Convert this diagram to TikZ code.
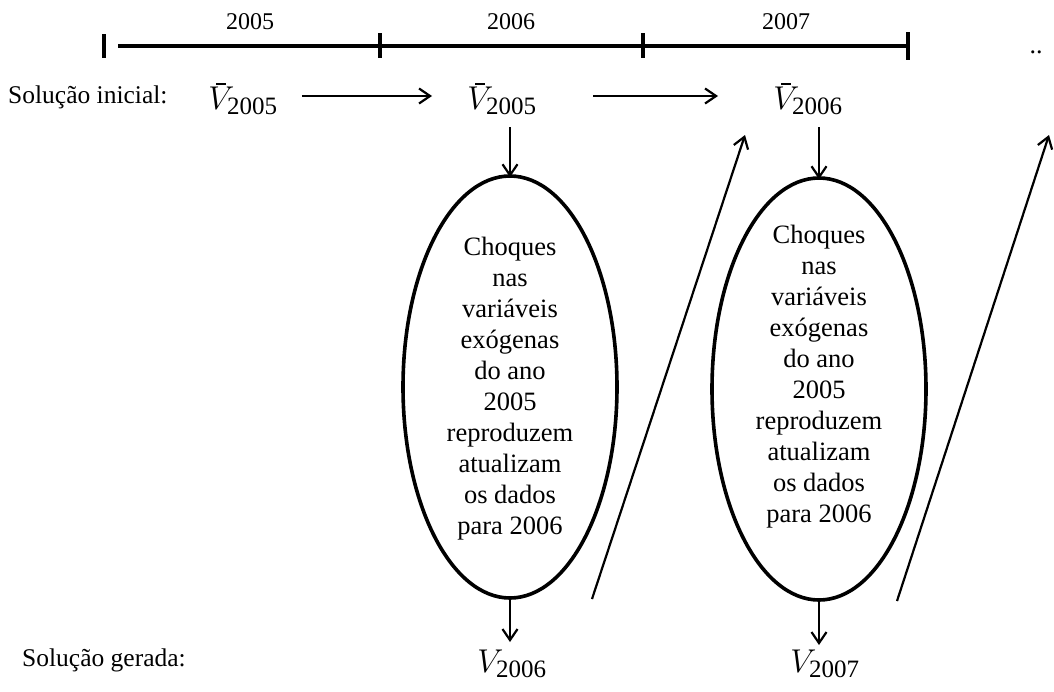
\documentclass[tikz,border=0pt]{standalone}
\usepackage{fix-cm}
\usepackage{fontspec}
\setmainfont{Liberation Serif}
\usetikzlibrary{arrows.meta,shapes.geometric}
\newcommand{\vplain}[1]{$V_{\mbox{\fontsize{25}{25}\selectfont #1}}$}
\newcommand{\vbar}[1]{\makebox[0pt][l]{\hspace{8pt}\rule[25pt]{10pt}{1.6pt}}\vplain{#1}}
\tikzset{
  lbl/.style={font=\fontsize{25.5}{30}\selectfont, inner sep=0pt},
  yr/.style={font=\fontsize{24}{28}\selectfont, inner sep=0pt},
  var/.style={font=\fontsize{33}{40}\selectfont, inner sep=0pt},
  shock/.style={ellipse, draw, line width=3.6pt, inner sep=0pt,
    minimum width=214pt, minimum height=422pt},
  shocktext/.style={align=center, inner sep=0pt, font=\fontsize{26.5}{31}\selectfont},
  arr/.style={line width=2.2pt, -{Straight Barb[length=11pt,width=15pt,line width=2.2pt]}},
  tl/.style={line width=3.6pt},
}
\begin{document}
\begin{tikzpicture}[x=1pt,y=-1pt]
\useasboundingbox (0,0) rectangle (1054,691);
% timeline
\draw[tl] (104,34) -- (104,58);
\draw[tl] (118,46) -- (908,46);
\draw[tl] (380,33) -- (380,58);
\draw[tl] (643,33) -- (643,58);
\draw[tl] (908,32) -- (908,60);
\node[yr] (y5) at (250,22) {2005};
\node[yr] (y6) at (511,22) {2006};
\node[yr] (y7) at (786,22) {2007};
\node[yr, font=\fontsize{26}{30}\selectfont] (dots) at (1036,52) {..};
% labels
\node[lbl, anchor=west] (si) at (8,97) {Solução inicial:};
\node[lbl, anchor=west] (sg) at (22,660) {Solução gerada:};
% variables
\node[var] (v1) at (243,99) {\vbar{2005}};
\node[var] (v2) at (502,99) {\vbar{2005}};
\node[var] (v3) at (808,99) {\vbar{2006}};
\node[var] (w1) at (512,664) {\vplain{2006}};
\node[var] (w2) at (825,664) {\vplain{2007}};
% ellipses
\node[shock] (e1) at (510,387) {};
\node[shocktext] (t1) at (510,389) {Choques\\nas\\variáveis\\exógenas\\do ano\\2005\\reproduzem\\atualizam\\os dados\\para 2006};
\node[shock] (e2) at (819,389) {};
\node[shocktext] (t2) at (819,377) {Choques\\nas\\variáveis\\exógenas\\do ano\\2005\\reproduzem\\atualizam\\os dados\\para 2006};
% horizontal arrows
\draw[arr] ([xshift=24pt]v1.east |- 0,96) -- (432,96) coordinate (h1);
\draw[arr] (593,96) coordinate (h2s) -- (718,96);
% vertical arrows
\draw[arr] (e1.north |- 0,127) -- ([yshift=-3pt]e1.north);
\draw[arr] (e2.north |- 0,127) -- ([yshift=-3pt]e2.north);
\draw[arr] ([yshift=1pt]e1.south) -- (e1.south |- 0,642);
\draw[arr] ([yshift=1pt]e2.south) -- (e2.south |- 0,645);
% diagonal arrows
\coordinate (d1s) at (592,599);
\coordinate (d1e) at (745,135);
\coordinate (d2s) at (897,601);
\coordinate (d2e) at (1049,135);
\draw[arr] (d1s) -- (d1e);
\draw[arr] (d2s) -- (d2e);
\end{tikzpicture}
\end{document}
